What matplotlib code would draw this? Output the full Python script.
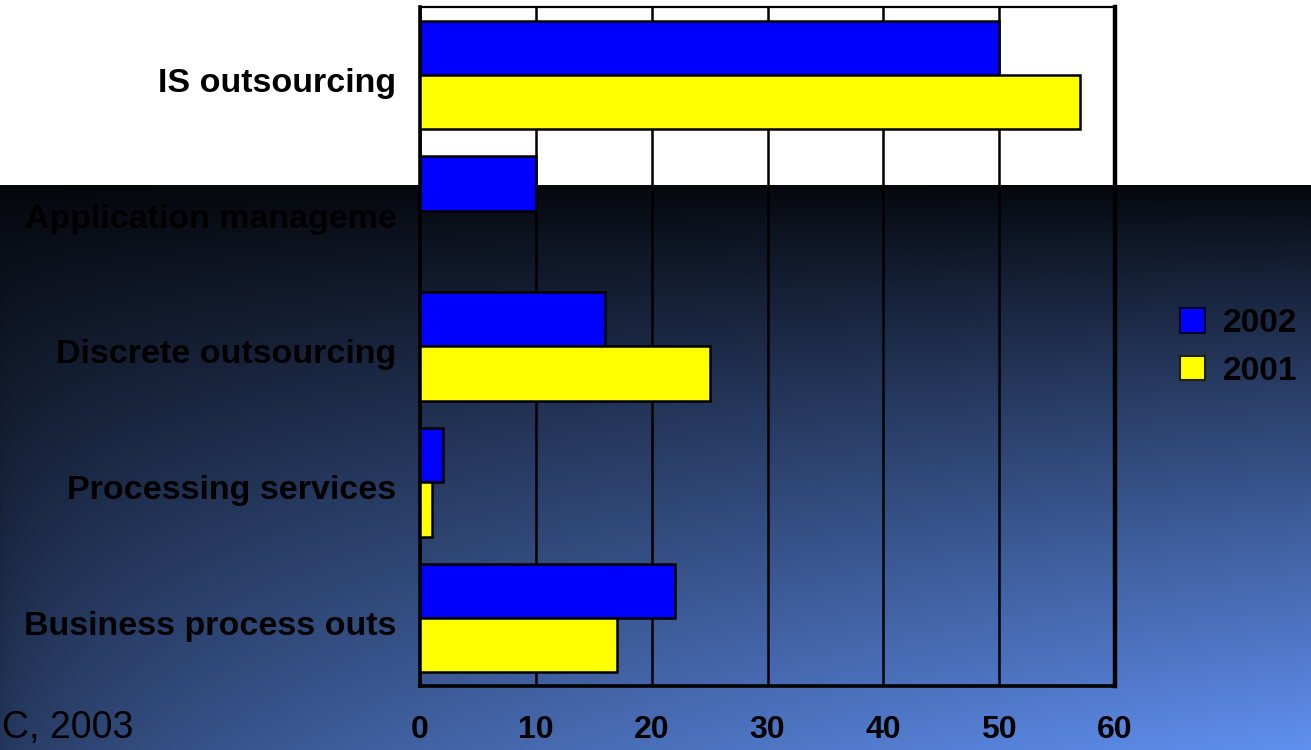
import numpy as np
import matplotlib.pyplot as plt
import matplotlib.transforms as mtransforms
from matplotlib.patches import Patch

categories = ["IS outsourcing", "Application manageme", "Discrete outsourcing",
              "Processing services", "Business process outs"]
vals_2002 = [50, 10, 16, 2, 22]
vals_2001 = [57, 0, 25, 1, 17]
xticks = [0, 10, 20, 30, 40, 50, 60]

plt.rcParams['font.family'] = ['Liberation Sans', 'DejaVu Sans']

W, H = 1311, 750
fig = plt.figure(figsize=(W / 100, H / 100), dpi=100)

# backdrop: white band on top, dark-to-blue gradient below
split = 185
yy, xx = np.mgrid[0:H, 0:W].astype(float)
ty = np.clip((yy - split) / (H - split), 0, 1)
tx = xx / W
f = (0.33 + 0.67 * tx ** 0.6) * ty ** 0.9
dark = np.array([5, 7, 12]) / 255
light = np.array([96, 144, 240]) / 255
img = dark + (light - dark) * f[..., None]
img[:split] = 1.0
bg = fig.add_axes([0, 0, 1, 1], zorder=0)
bg.imshow(img, aspect='auto', extent=[0, 1, 0, 1], interpolation='bilinear')
bg.axis('off')

ax = fig.add_axes([420 / W, 1 - 686 / H, 695 / W, 679 / H], zorder=1)
ax.patch.set_alpha(0)

pos = np.arange(len(categories))[::-1]
h = 0.4
ax.barh(pos + h / 2, vals_2002, height=h, color='#0000ff', edgecolor='black',
        linewidth=1.8, zorder=3)
ax.barh(pos - h / 2, vals_2001, height=h, color='#ffff00', edgecolor='black',
        linewidth=1.8, zorder=3)

ax.set_xlim(0, 60)
ax.set_ylim(-0.5, len(categories) - 0.5)
ax.set_xticks(xticks)
ax.set_xticklabels([str(t) for t in xticks], fontsize=23, fontweight='bold')
ax.set_yticks(pos)
ax.set_yticklabels(categories, fontsize=24.5, fontweight='bold')
ax.tick_params(axis='x', length=0, pad=21)
ax.tick_params(axis='y', length=0, pad=17)
shift = mtransforms.ScaledTranslation(0, -5 / 100, fig.dpi_scale_trans)
for lbl in ax.get_yticklabels():
    lbl.set_transform(lbl.get_transform() + shift)
ax.xaxis.grid(True, color='black', linewidth=1.8, zorder=1)
ax.set_axisbelow(True)
for side, lw in (('left', 2.6), ('bottom', 2.6), ('right', 3.2), ('top', 1.6)):
    ax.spines[side].set_linewidth(lw)
    ax.spines[side].set_color('black')

handles = [Patch(facecolor='#0000ff', edgecolor='#000030', linewidth=1.5, label='2002'),
           Patch(facecolor='#ffff00', edgecolor='#202000', linewidth=1.5, label='2001')]
fig.legend(handles=handles, loc='upper left', bbox_to_anchor=(1180 / W, 1 - 308 / H),
           frameon=False, prop={'size': 24, 'weight': 'bold'},
           borderpad=0, borderaxespad=0,
           handlelength=0.75, handleheight=0.75, handletextpad=0.55,
           labelspacing=0.5)

fig.text(2 / W, 4 / H, "C, 2003", fontsize=27, color='black', va='bottom')

fig.savefig('out.png', dpi=100)
